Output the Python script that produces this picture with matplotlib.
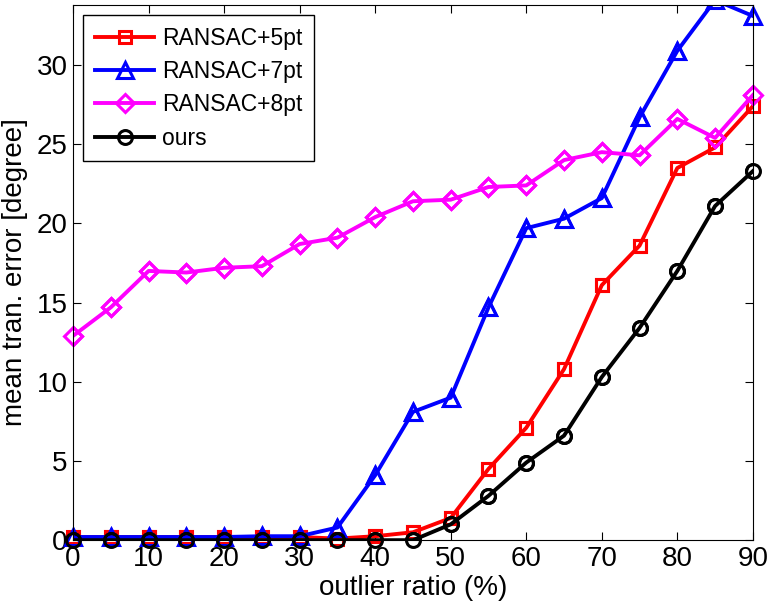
import matplotlib
matplotlib.use('Agg')
import matplotlib.pyplot as plt
import numpy as np

plt.rcParams['font.family'] = ['Liberation Sans', 'DejaVu Sans']

ratio = [0, 5, 10, 15, 20, 25, 30, 35, 40, 45, 50, 55, 60, 65, 70, 75, 80, 85, 90]
err_5pt = [0.2, 0.2, 0.2, 0.2, 0.2, 0.2, 0.2, 0.1, 0.25, 0.5, 1.4, 4.5, 7.1, 10.8, 16.1, 18.6, 23.5, 24.8, 27.4]
err_7pt = [0.2, 0.2, 0.2, 0.2, 0.2, 0.25, 0.25, 0.8, 4.1, 8.1, 9.0, 14.7, 19.7, 20.3, 21.6, 26.7, 30.9, 34.1, 33.1]
err_8pt = [12.9, 14.7, 17.0, 16.9, 17.2, 17.3, 18.7, 19.1, 20.4, 21.4, 21.5, 22.3, 22.4, 24.0, 24.5, 24.3, 26.6, 25.4, 28.1]
err_ours = [0.0, 0.0, 0.0, 0.0, 0.0, 0.0, 0.0, 0.0, 0.0, 0.0, 1.0, 2.8, 4.9, 6.6, 10.3, 13.4, 17.0, 21.1, 23.3]

series = [
    (err_5pt, 'RANSAC+5pt', '#ff0000', 's', 8),
    (err_7pt, 'RANSAC+7pt', '#0000ff', '^', 12),
    (err_8pt, 'RANSAC+8pt', '#ff00ff', 'D', 9),
    (err_ours, 'ours', '#000000', 'o', 10),
]
ymax = 33.8

fig = plt.figure(figsize=(7.69, 6.09), dpi=100)
ax = fig.add_axes([0.095, 0.113, 0.884, 0.879])

for ys, lab, c, m, ms in series:
    ax.plot(ratio, ys, color=c, marker=m, ms=ms, mfc='none', mec=c, mew=2.2,
            lw=2.8, label=lab)
    # markers like matlab: not clipped at the box, but hidden when out of range
    ym = np.where(np.array(ys) > ymax, np.nan, ys)
    ax.plot(ratio, ym, ls='none', marker=m, ms=ms, mfc='none', mec=c, mew=2.2,
            clip_on=False)

ax.set_xlim(0, 90)
ax.set_ylim(0, ymax)
ax.set_xticks(np.arange(0, 91, 10))
ax.set_yticks(np.arange(0, 31, 5))
ax.tick_params(direction='in', top=True, right=True, labelsize=20, length=6, pad=4)
ax.set_xlabel('outlier ratio (%)', fontsize=20, labelpad=2)
ax.set_ylabel('mean tran. error [degree]', fontsize=20, labelpad=6)

leg = ax.legend(loc='upper left', fontsize=16.5, fancybox=False, edgecolor='k',
                framealpha=1, handlelength=2.6, handletextpad=0.35,
                borderaxespad=0.45, borderpad=0.5, labelspacing=0.45)
leg.get_frame().set_linewidth(1)

fig.savefig('out.png', dpi=100)
